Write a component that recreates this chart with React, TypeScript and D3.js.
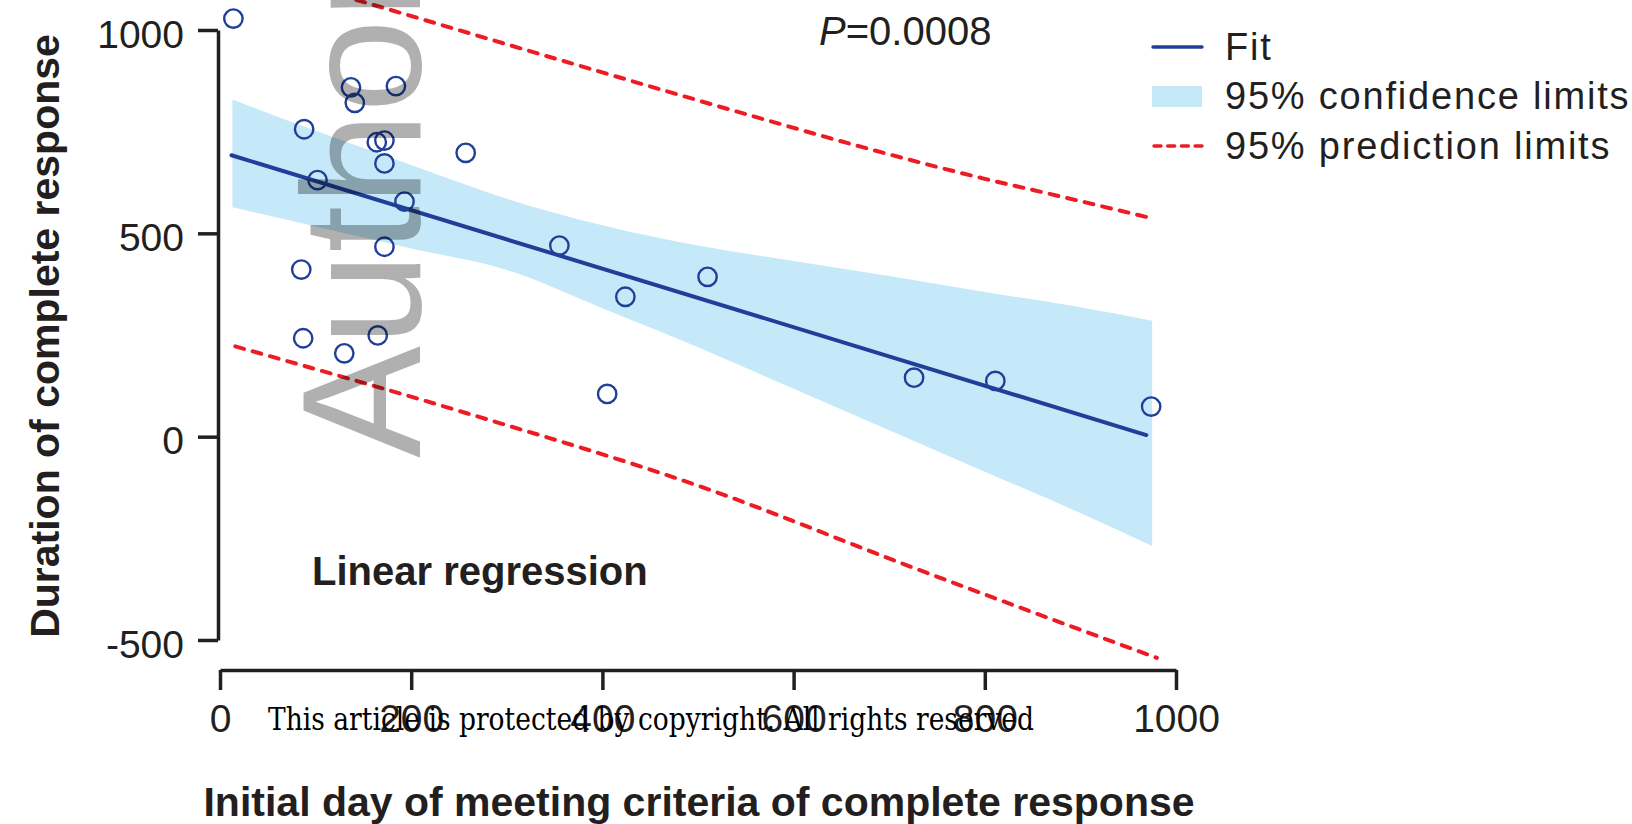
import React, { useEffect, useRef } from 'react';
import * as d3 from 'd3';

const W = 1632;
const H = 824;

// observed patients: initial day of CR vs duration of CR
const dayX = [14, 88, 102, 85, 87, 130, 137, 141, 184, 164, 172, 172, 193, 172, 165, 257, 355, 424, 405, 510, 726, 811, 974];
const durationY = [1028, 756, 631, 411, 242, 205, 859, 821, 862, 724, 728, 672, 578, 467, 249, 698, 470, 344, 105, 393, 145, 137, 74];

// regression fit line (endpoints)
const fitX = [12, 969];
const fitY = [692, 4];

// 95% confidence band
const bandX = [13, 100, 200, 300, 400, 500, 600, 700, 800, 900, 975];
const bandLow = [564, 517, 463, 410, 316, 220, 118, 16, -86, -188, -269];
const bandHigh = [829, 752, 668, 585, 520, 470, 432, 395, 356, 318, 285];

// 95% prediction limits
const predUpX = [16, 144, 356, 562, 672, 800, 866, 973];
const predUpY = [1160, 1073, 926, 785, 712, 634, 598, 538];
const predLowX = [16, 259, 503, 726, 980];
const predLowY = [222, 57, -123, -323, -544];

const xTicks = [0, 200, 400, 600, 800, 1000];
const yTicks = [-500, 0, 500, 1000];

const legendLabels = ['Fit', '95% confidence limits', '95% prediction limits'];

const NAVY = '#213f99';
const BAND = '#c6e9f9';
const RED = '#ed1c24';
const INK = '#231f20';
const SANS = '"Liberation Sans", Arial, Helvetica, sans-serif';

const renderChart = (svgEl: SVGSVGElement) => {
  const svg = d3.select(svgEl);
  svg.selectAll('*').remove();

  const x = d3.scaleLinear().domain([0, 1000]).range([220, 1176]);
  const y = d3.scaleLinear().domain([-500, 1000]).range([640, 30]);

  // confidence band
  const bandRows = bandX.map((d, i) => ({ x: d, lo: bandLow[i], hi: bandHigh[i] }));
  svg.append('path')
    .datum(bandRows)
    .attr('fill', BAND)
    .attr('d', d3.area<any>()
      .x(d => x(d.x))
      .y0(d => y(d.lo))
      .y1(d => y(d.hi))
      .curve(d3.curveMonotoneX));

  // prediction limits
  const lineGen = d3.line<[number, number]>()
    .x(d => x(d[0]))
    .y(d => y(d[1]))
    .curve(d3.curveMonotoneX);

  [[predUpX, predUpY], [predLowX, predLowY]].forEach(([xs, ys]) => {
    svg.append('path')
      .datum(xs.map((v, i) => [v, ys[i]] as [number, number]))
      .attr('fill', 'none')
      .attr('stroke', RED)
      .attr('stroke-width', 4)
      .attr('stroke-linecap', 'round')
      .attr('stroke-dasharray', '9 9')
      .attr('d', lineGen);
  });

  // fit
  svg.append('path')
    .datum(fitX.map((v, i) => [v, fitY[i]] as [number, number]))
    .attr('fill', 'none')
    .attr('stroke', NAVY)
    .attr('stroke-width', 4)
    .attr('stroke-linecap', 'round')
    .attr('d', d3.line<[number, number]>().x(d => x(d[0])).y(d => y(d[1])));

  // points
  svg.append('g')
    .selectAll('circle')
    .data(dayX.map((d, i) => [d, durationY[i]]))
    .enter().append('circle')
      .attr('cx', d => x(d[0]))
      .attr('cy', d => y(d[1]))
      .attr('r', 9.2)
      .attr('fill', 'none')
      .attr('stroke', NAVY)
      .attr('stroke-width', 2.4);

  // axes
  const styleAxis = (g: any) => {
    g.select('.domain').attr('stroke', INK).attr('stroke-width', 3.5);
    g.selectAll('.tick line').attr('stroke', INK).attr('stroke-width', 3.5);
    g.selectAll('.tick text')
      .attr('fill', INK)
      .attr('font-family', SANS)
      .attr('font-size', 39);
  };

  const yAxisG = svg.append('g')
    .attr('transform', 'translate(218,0)')
    .call(d3.axisLeft(y).tickValues(yTicks).tickSize(20).tickSizeOuter(0).tickPadding(14).tickFormat(d => String(d)));
  styleAxis(yAxisG);
  yAxisG.selectAll('.tick text').attr('dy', '0.44em');

  const xAxisG = svg.append('g')
    .attr('transform', 'translate(0,670)')
    .call(d3.axisBottom(x).tickValues(xTicks).tickSize(20).tickSizeOuter(0).tickPadding(14).tickFormat(d => String(d)));
  styleAxis(xAxisG);

  // axis titles
  svg.append('text')
    .attr('x', 699).attr('y', 816)
    .attr('text-anchor', 'middle')
    .attr('font-family', SANS).attr('font-weight', 'bold').attr('font-size', 41)
    .attr('fill', INK)
    .text('Initial day of meeting criteria of complete response');

  svg.append('text')
    .attr('transform', 'translate(59,336) rotate(-90)')
    .attr('text-anchor', 'middle')
    .attr('font-family', SANS).attr('font-weight', 'bold').attr('font-size', 41)
    .attr('fill', INK)
    .text('Duration of complete response');

  svg.append('text')
    .attr('x', 312).attr('y', 585)
    .attr('font-family', SANS).attr('font-weight', 'bold').attr('font-size', 40)
    .attr('fill', INK)
    .text('Linear regression');

  const pText = svg.append('text')
    .attr('x', 819).attr('y', 45)
    .attr('font-family', SANS).attr('font-size', 40)
    .attr('fill', INK);
  pText.append('tspan').attr('font-style', 'italic').text('P');
  pText.append('tspan').text('=0.0008');

  // legend
  const legend = svg.append('g').attr('transform', 'translate(1152,0)');
  const rowY = [47, 96.5, 146];
  legend.append('line')
    .attr('x1', 1).attr('x2', 50).attr('y1', rowY[0]).attr('y2', rowY[0])
    .attr('stroke', NAVY).attr('stroke-width', 3.4).attr('stroke-linecap', 'round');
  legend.append('rect')
    .attr('x', 0).attr('y', rowY[1] - 10.5).attr('width', 50).attr('height', 21)
    .attr('fill', BAND);
  legend.append('line')
    .attr('x1', 2).attr('x2', 50).attr('y1', rowY[2]).attr('y2', rowY[2])
    .attr('stroke', RED).attr('stroke-width', 3.4).attr('stroke-linecap', 'round')
    .attr('stroke-dasharray', '7 6.7');
  legend.selectAll('text.lbl')
    .data(legendLabels)
    .enter().append('text')
      .attr('class', 'lbl')
      .attr('x', 73)
      .attr('y', (d, i) => rowY[i] + 12.5)
      .attr('font-family', SANS).attr('font-size', 38)
      .attr('letter-spacing', 1.8)
      .attr('fill', INK)
      .text(d => d);

  // watermark
  svg.append('text')
    .attr('transform', 'translate(420,458) rotate(-90)')
    .attr('font-family', SANS).attr('font-size', 168)
    .attr('fill', '#000').attr('fill-opacity', 0.31)
    .text('Author Manuscript');

  svg.append('text')
    .attr('x', 268).attr('y', 730)
    .attr('font-family', '"DejaVu Serif", "Liberation Serif", serif')
    .attr('font-size', 31)
    .attr('textLength', 766)
    .attr('lengthAdjust', 'spacingAndGlyphs')
    .attr('fill', '#000')
    .text('This article is protected by copyright. All rights reserved');
};

export default function App() {
  const ref = useRef<SVGSVGElement>(null);
  useEffect(() => {
    if (ref.current) renderChart(ref.current);
  }, []);
  return (
    <svg
      ref={ref}
      width={W}
      height={H}
      style={{ position: 'absolute', left: 0, top: 0, background: '#fff' }}
    />
  );
}
